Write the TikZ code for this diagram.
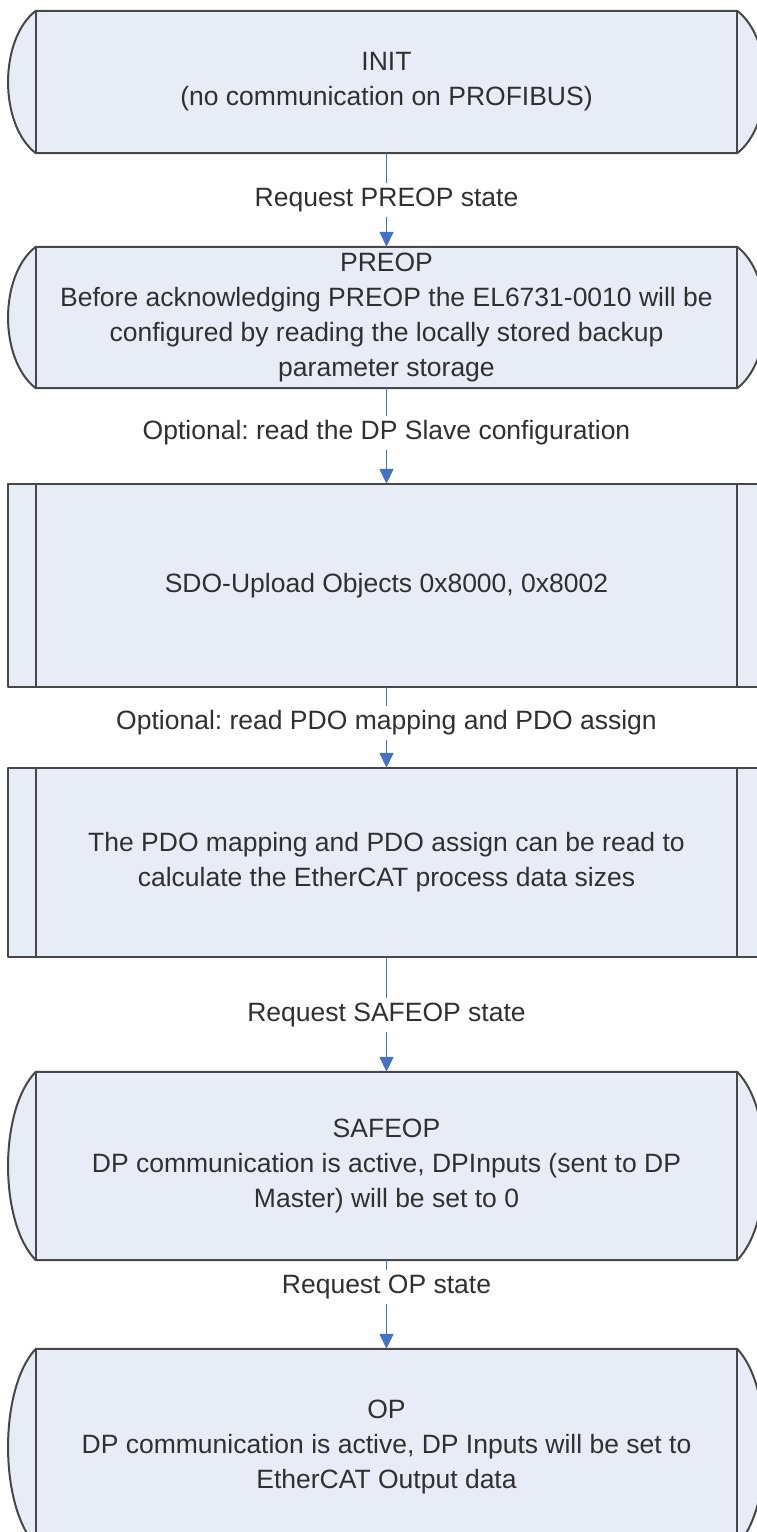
\documentclass[tikz,border=0pt]{standalone}
\usepackage{fontspec}
\setmainfont{Liberation Sans}
\usetikzlibrary{arrows.meta,backgrounds,calc}
\definecolor{boxfill}{HTML}{E8ECF6}
\definecolor{boxline}{HTML}{474747}
\definecolor{arrowblue}{HTML}{4472C4}
\definecolor{txt}{HTML}{303030}
\tikzset{
 boxtext/.style={draw=none, inner sep=0pt, minimum width=701pt, align=center, text=txt, font=\fontsize{26.5}{35}\selectfont\frenchspacing},
 outline/.style={draw=boxline, line width=2pt, fill=boxfill, line join=round},
 innerline/.style={draw=boxline, line width=2pt},
 flow/.style={draw=arrowblue, line width=1.5pt, -{Triangle[width=14pt,length=15pt]}},
 lbl/.style={fill=white, text=txt, font=\fontsize{26.5}{35}\selectfont\frenchspacing, inner xsep=3pt, inner ysep=4.5pt, text height=19pt, text depth=6pt},
}
\newcommand\storedbox[1]{%
 \begin{scope}[on background layer]
 \path[outline] (#1.north west) -- (#1.north east)
   .. controls ($(#1.north east)!.2!(#1.south east)+(37,0)$) and ($(#1.north east)!.8!(#1.south east)+(37,0)$) .. (#1.south east)
   -- (#1.south west)
   .. controls ($(#1.north west)!.8!(#1.south west)+(-37,0)$) and ($(#1.north west)!.2!(#1.south west)+(-37,0)$) .. (#1.north west) -- cycle;
 \draw[innerline] (#1.north west) -- (#1.south west) (#1.north east) -- (#1.south east);
 \end{scope}}
\newcommand\procbox[1]{%
 \begin{scope}[on background layer]
 \path[outline] ($(#1.north west)+(-28,0)$) rectangle ($(#1.south east)+(28,0)$);
 \draw[innerline] (#1.north west) -- (#1.south west) (#1.north east) -- (#1.south east);
 \end{scope}}
\begin{document}
\begin{tikzpicture}[x=1pt,y=-1pt]
\useasboundingbox (0,0) rectangle (756,1532);
\clip (0,0) rectangle (756,1532);
\node[boxtext, minimum height=142pt] (init) at (386.5,82) {INIT\\(no communication on PROFIBUS)};
\node[boxtext, minimum height=141pt] (preop) at (386.5,317.5) {PREOP\\Before acknowledging PREOP the EL6731-0010 will be\\configured by reading the locally stored backup\\parameter storage};
\node[boxtext, minimum height=203pt] (sdo) at (386.5,585.5) {SDO-Upload Objects 0x8000, 0x8002};
\node[boxtext, minimum height=189pt] (pdo) at (386.5,862.5) {The PDO mapping and PDO assign can be read to\\calculate the EtherCAT process data sizes};
\node[boxtext, minimum height=188pt] (safeop) at (386.5,1166) {SAFEOP\\DP communication is active, DPInputs (sent to DP\\Master) will be set to 0};
\node[boxtext, minimum height=196pt] (op) at (386.5,1447) {OP\\DP communication is active, DP Inputs will be set to\\EtherCAT Output data};
\storedbox{init}
\storedbox{preop}
\procbox{sdo}
\procbox{pdo}
\storedbox{safeop}
\storedbox{op}
\draw[flow] (init.south) -- (preop.north) node[lbl, pos=0.5] {Request PREOP state};
\draw[flow] (preop.south) -- (sdo.north) node[lbl, pos=0.47] {Optional: read the DP Slave configuration};
\draw[flow] (sdo.south) -- (pdo.north) node[lbl, pos=0.44] {Optional: read PDO mapping and PDO assign};
\draw[flow] (pdo.south) -- (safeop.north) node[lbl, pos=0.5] {Request SAFEOP state};
\draw[flow] (safeop.south) -- (op.north) node[lbl, pos=0.3] {Request OP state};
\end{tikzpicture}
\end{document}
